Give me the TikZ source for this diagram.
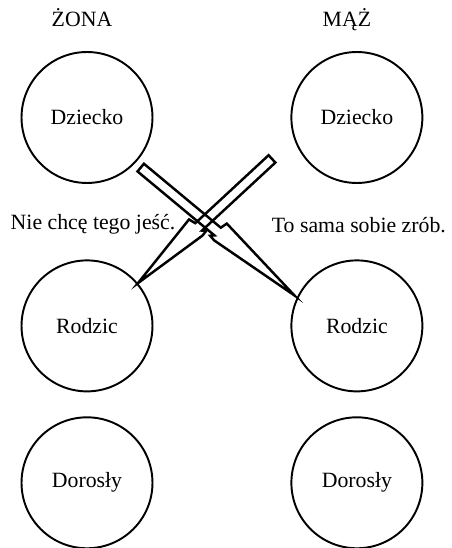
\documentclass[tikz,border=0pt]{standalone}
\usepackage{fontspec}
\setmainfont{Liberation Serif}
\usetikzlibrary{positioning,calc}
\tikzset{
  stan/.style  ={draw,circle,line width=1.1pt,minimum size=2.62cm,inner sep=0pt,
                 font=\fontsize{12.4}{15}\selectfont},
  txt/.style   ={font=\fontsize{12.4}{15}\selectfont,inner sep=0pt},
  bolt/.style  ={line width=1.4pt,line join=miter},
}
% transakcja skrzyzowana: od, do, strona ostrza (1 / -1)
\newcommand{\piorun}[3]{%
  \draw[bolt] let \p1=($(#2)-(#1)$), \n1={atan2(\y1,\x1)} in
    [shift={(#1)},rotate=\n1,yscale=#3]
    (0,5) -- (100,5) -- (102,12) -- (#2) -- (103,-9) -- (97,-8) -- (100,-5)
    -- (0,-5) -- cycle;
}

\begin{document}
\begin{tikzpicture}[x=0.02cm,y=0.02cm]
  \useasboundingbox (0,0) rectangle (451,548);

  \node[stan] (zdz) at (87,430.5) {Dziecko};
  \node[stan,below=1.51cm of zdz] (zro) {Rodzic};
  \node[stan,below=0.48cm of zro] (zdo) {Dorosły};

  \node[stan,right=2.74cm of zdz] (mdz) {Dziecko};
  \node[stan,right=2.74cm of zro] (mro) {Rodzic};
  \node[stan,right=2.74cm of zdo] (mdo) {Dorosły};

  \node[txt,anchor=base] (zona) at ($(zdz.north)+(-5,25)$) {ŻONA};
  \node[txt,anchor=base] (maz)  at ($(mdz.north)+(-10,25)$) {MĄŻ};

  \node[txt] (zmowi) at ($(zdz)!0.5!(zro)+(6,-3)$) {Nie chcę tego jeść.};
  \node[txt] (mmowi) at ($(mdz)!0.5!(mro)+(2,-3)$) {To sama sobie zrób.};

  \coordinate (a0) at ($(zdz.-43)+(-43:7)$);
  \coordinate (a1) at ($(mro.154)+(154:3)$);
  \coordinate (b0) at ($(mdz.206)+(206:28)$);
  \coordinate (b1) at (zro.40);

  \piorun{a0}{a1}{1}
  \piorun{b0}{b1}{-1}
\end{tikzpicture}
\end{document}
